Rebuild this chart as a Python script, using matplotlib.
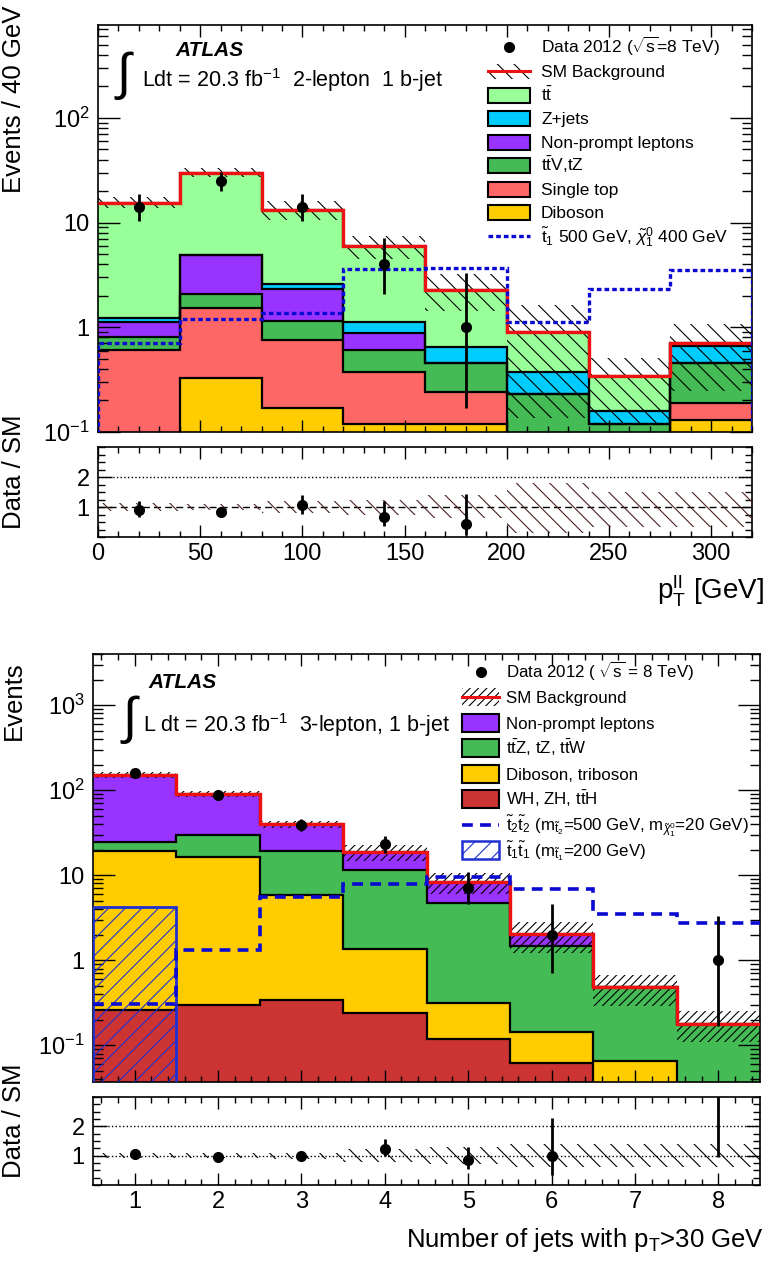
"""
Dos distribuciones de control de ATLAS (2012, 8 TeV) con paneles de cociente Data/SM:
  1. p_T^ll en la region 2-lepton, 1 b-jet.
  2. Numero de jets con p_T > 30 GeV en la region 3-lepton, 1 b-jet.
"""

import numpy as np
import matplotlib.pyplot as plt
from matplotlib.patches import Rectangle
from matplotlib.lines import Line2D
from matplotlib.ticker import (FixedLocator, FixedFormatter, MultipleLocator,
                               LogLocator, NullFormatter)

# Tamano de la figura en pixeles
W, H = 778, 1262

plt.rcParams['font.family'] = ['Liberation Sans', 'DejaVu Sans']
plt.rcParams['mathtext.fontset'] = 'custom'
plt.rcParams['mathtext.rm'] = 'Liberation Sans'
plt.rcParams['mathtext.it'] = 'Liberation Sans:italic'
plt.rcParams['mathtext.bf'] = 'Liberation Sans:bold'
plt.rcParams['hatch.linewidth'] = 0.8

# ---------------------------
# Panel superior: p_T^ll (2-lepton, 1 b-jet)
bordes_ptll = [0, 40, 80, 120, 160, 200, 240, 280, 320]
diboson_2l = [0.0, 0.33, 0.17, 0.12, 0.12, 0.0, 0.0, 0.13]
single_top_2l = [0.61, 1.21, 0.59, 0.25, 0.12, 0.0, 0.0, 0.06]
ttv_2l = [0.20, 0.55, 0.39, 0.24, 0.22, 0.23, 0.12, 0.27]
no_prompt_2l = [0.31, 2.81, 1.18, 0.28, 0.0, 0.0, 0.0, 0.0]
zjets_2l = [0.11, 0.0, 0.27, 0.24, 0.19, 0.14, 0.04, 0.20]
ttbar_2l = [14.3, 25.1, 10.7, 4.8, 1.64, 0.54, 0.18, 0.05]
incert_sube_2l = [0.12, 0.10, 0.20, 0.25, 0.40, 0.80, 0.50, 0.50]
incert_baja_2l = [0.12, 0.10, 0.20, 0.25, 0.38, 0.85, 0.65, 0.65]
senal_2l = [0.71, 1.2, 1.38, 3.6, 3.7, 1.13, 2.3, 3.55]
x_datos_2l = [20, 60, 100, 140, 180]
datos_2l = [14, 25, 14, 4, 1]
datos_2l_bajo = [10.3, 20.0, 10.3, 2.08, 0.17]
datos_2l_alto = [18.8, 30.5, 18.8, 7.16, 3.30]

# Panel inferior: numero de jets (3-lepton, 1 b-jet)
bordes_njet = [0.5, 1.5, 2.5, 3.5, 4.5, 5.5, 6.5, 7.5, 8.5]
wh_3l = [0.26, 0.30, 0.34, 0.24, 0.117, 0.062, 0.0, 0.0]
diboson_3l = [18.9, 16.0, 5.46, 1.11, 0.20, 0.08, 0.065, 0.0]
ttz_3l = [5.2, 13.2, 13.4, 10.15, 4.38, 1.32, 0.415, 0.18]
no_prompt_3l = [125.6, 60.5, 20.8, 7.1, 3.6, 0.56, 0.0, 0.0]
incert_3l = [0.08, 0.08, 0.10, 0.22, 0.28, 0.40, 0.40, 0.40]
senal_t2_3l = [0.31, 1.31, 5.5, 7.8, 9.6, 6.8, 3.47, 2.72]
senal_t1_3l = [4.2, 0.0, 0.0, 0.0, 0.0, 0.0, 0.0, 0.0]
x_datos_3l = [1, 2, 3, 4, 5, 6, 8]
datos_3l = [160, 87, 39, 23, 7, 2, 1]
datos_3l_bajo = [147.8, 77.7, 32.8, 18.3, 4.6, 0.71, 0.17]
datos_3l_alto = [173.3, 97.4, 45.3, 28.9, 10.8, 4.64, 3.30]

# Colores estilo ROOT
C_TTBAR = '#99ff99'
C_ZJETS = '#00ccff'
C_NOPROMPT = '#9933ff'
C_TTV = '#44bb55'
C_SINGLETOP = '#ff6666'
C_DIBOSON = '#ffcc00'
C_WH = '#cc3333'
C_SENAL = '#0a0ad2'
C_ROJO = '#ee1111'


def caja(x0, y0, x1, y1):
    """Rectangulo en pixeles (origen arriba-izquierda) -> coordenadas de figura."""
    return [x0 / W, 1 - y1 / H, (x1 - x0) / W, (y1 - y0) / H]


def px(x, y):
    return x / W, 1 - y / H


def dibujar_pila(ax, bordes, componentes, colores, suelo):
    """Dibuja el apilado de fondos con contorno negro; devuelve el total."""
    topes = np.cumsum(np.array(componentes, dtype=float), axis=0)
    topes_vis = np.maximum(topes, suelo)
    base = np.full(topes.shape[1], suelo)
    for tope, color in zip(topes_vis, colores):
        ax.stairs(tope, bordes, baseline=base, fill=True, facecolor=color,
                  edgecolor='none', lw=0, zorder=1)
        base = tope
    for tope in topes_vis:
        ax.stairs(tope, bordes, baseline=None, color='black', lw=1.6, zorder=2)
    return topes[-1]


def banda(ax, bordes, centro, arriba, abajo, rayado, color='black'):
    """Banda rayada de incertidumbre alrededor de 'centro'."""
    bordes = np.asarray(bordes, dtype=float)
    ancho = np.diff(bordes)
    x = bordes[:-1] + ancho / 2
    arriba, abajo = np.asarray(arriba), np.asarray(abajo)
    ax.bar(x, centro * (arriba + abajo), bottom=centro * (1 - abajo), width=ancho,
           facecolor='none', edgecolor=color, lw=0, hatch=rayado, zorder=3)


def estilo_ejes(ax, largo_y=(16, 7.5), largo_x=(8.5, 4.5)):
    ax.tick_params(which='both', direction='in', top=True, right=True,
                   width=1, labelsize=17)
    ax.tick_params(axis='y', which='major', length=largo_y[0], pad=6)
    ax.tick_params(axis='y', which='minor', length=largo_y[1])
    ax.tick_params(axis='x', which='major', length=largo_x[0], pad=4)
    ax.tick_params(axis='x', which='minor', length=largo_x[1])
    for s in ax.spines.values():
        s.set_linewidth(1.2)


def eje_log(ax, ymin, ymax, mayores, etiquetas):
    ax.set_yscale('log')
    ax.set_ylim(ymin, ymax)
    ax.yaxis.set_major_locator(FixedLocator(mayores))
    ax.yaxis.set_major_formatter(FixedFormatter(etiquetas))
    ax.yaxis.set_minor_locator(LogLocator(base=10, subs=np.arange(2, 10)))
    ax.yaxis.set_minor_formatter(NullFormatter())


def eje_cociente(ax):
    ax.set_ylim(0, 3)
    ax.yaxis.set_major_locator(FixedLocator([1, 2]))
    ax.yaxis.set_minor_locator(MultipleLocator(0.25))
    ax.axhline(2, color='black', lw=1, ls=':', zorder=2)


def leyenda(fig, entradas, x0, x1, alto, filas, x_texto, tam):
    """Leyenda dibujada a mano (posiciones en pixeles)."""
    ancho = (x1 - x0) / W
    alto_f = alto / H
    for (tipo, props, texto), y in zip(entradas, filas):
        fx0, fy = px(x0, y)
        if tipo == 'datos':
            fig.add_artist(Line2D([(x0 + x1) / 2 / W], [fy], marker='o', ls='none',
                                  color='black', ms=7, transform=fig.transFigure))
        elif tipo == 'banda':
            fig.add_artist(Rectangle((fx0, fy - alto_f / 2), ancho, alto_f,
                                     facecolor='none', edgecolor='black', lw=0,
                                     hatch=props, transform=fig.transFigure))
            fig.add_artist(Line2D([fx0, fx0 + ancho], [fy, fy], color=C_ROJO,
                                  lw=2.2, transform=fig.transFigure))
        elif tipo == 'caja':
            fig.add_artist(Rectangle((fx0, fy - alto_f / 2), ancho, alto_f,
                                     facecolor=props, edgecolor='black', lw=1.5,
                                     transform=fig.transFigure))
        elif tipo == 'linea':
            fig.add_artist(Line2D([fx0, fx0 + ancho], [fy, fy],
                                  transform=fig.transFigure, **props))
        elif tipo == 'rayado':
            fig.add_artist(Rectangle((fx0, fy - alto_f / 2), ancho, alto_f,
                                     facecolor='none', edgecolor=props, lw=1.8,
                                     hatch='//', transform=fig.transFigure))
        fig.text(x_texto / W, 1 - (y + 0.5 * tam) / H, texto, fontsize=tam,
                 va='baseline', ha='left')


def puntos_datos(ax, x, y, bajo, alto):
    y, bajo, alto = np.asarray(y, float), np.asarray(bajo, float), np.asarray(alto, float)
    ax.errorbar(x, y, yerr=[y - bajo, alto - y], fmt='o', color='black', ms=7,
                elinewidth=2, capsize=0, zorder=10)


fig = plt.figure(figsize=(W / 100, H / 100), dpi=100)

# ---------------------------
# Panel superior
ax1 = fig.add_axes(caja(98, 25, 752, 432))
ax1r = fig.add_axes(caja(98, 447, 752, 537))

suelo = 1e-3
total_2l = dibujar_pila(ax1, bordes_ptll,
                        [diboson_2l, single_top_2l, ttv_2l, no_prompt_2l, zjets_2l, ttbar_2l],
                        [C_DIBOSON, C_SINGLETOP, C_TTV, C_NOPROMPT, C_ZJETS, C_TTBAR], suelo)
banda(ax1, bordes_ptll, total_2l, incert_sube_2l, incert_baja_2l, '\\\\')
ax1.stairs(total_2l, bordes_ptll, baseline=None, color=C_ROJO, lw=2.4, zorder=4)
ax1.stairs(senal_2l, bordes_ptll, baseline=suelo, color=C_SENAL, lw=2.4,
           ls=(0, (1.4, 0.9)), zorder=5)
puntos_datos(ax1, x_datos_2l, datos_2l, datos_2l_bajo, datos_2l_alto)

eje_log(ax1, 0.1, 770, [0.1, 1, 10, 100], ['$10^{-1}$', '1', '10', '$10^{2}$'])
for a in (ax1, ax1r):
    a.set_xlim(0, 320)
    a.xaxis.set_major_locator(MultipleLocator(50))
    a.xaxis.set_minor_locator(MultipleLocator(10))
estilo_ejes(ax1)
ax1.tick_params(labelbottom=False)

# Cociente superior
idx_2l = np.searchsorted(bordes_ptll, x_datos_2l) - 1
den_2l = total_2l[idx_2l]
banda(ax1r, bordes_ptll, np.ones(len(total_2l)), incert_sube_2l, incert_baja_2l,
      '\\\\', color='#4a2222')
eje_cociente(ax1r)
ax1r.axhline(1, color='black', lw=1, ls=(0, (5, 3)), zorder=2)
puntos_datos(ax1r, x_datos_2l, np.array(datos_2l) / den_2l,
             np.array(datos_2l_bajo) / den_2l, np.array(datos_2l_alto) / den_2l)
estilo_ejes(ax1r, largo_y=(10, 5))

fig.text(*px(14, 193), 'Events / 40 GeV', rotation=90, fontsize=18.5,
         ha='center', va='bottom')
fig.text(*px(14, 529), 'Data / SM', rotation=90, fontsize=18.5,
         ha='center', va='bottom')
fig.text(*px(764, 590), r'$\mathrm{p}_{\mathrm{T}}^{\mathrm{ll}}$ [GeV]', fontsize=20,
         ha='right', va='center')

fig.text(*px(175, 50), 'ATLAS', fontsize=15, weight='bold', style='italic', va='center')
fig.text(*px(116, 76), '\u222b', fontsize=37, va='center')
fig.text(*px(142, 80), r'Ldt = 20.3 fb$^{\mathrm{-1}}$  2-lepton  1 b-jet',
         fontsize=15.5, va='center')

leyenda(fig, [
    ('datos', None, r'Data 2012 ($\sqrt{\mathrm{s}}$=8 TeV)'),
    ('banda', '\\\\', 'SM Background'),
    ('caja', C_TTBAR, r'$\mathrm{t\bar{t}}$'),
    ('caja', C_ZJETS, 'Z+jets'),
    ('caja', C_NOPROMPT, 'Non-prompt leptons'),
    ('caja', C_TTV, r'$\mathrm{t\bar{t}}$V,tZ'),
    ('caja', C_SINGLETOP, 'Single top'),
    ('caja', C_DIBOSON, 'Diboson'),
    ('linea', dict(color=C_SENAL, lw=2.4, ls=(0, (1.4, 0.9))),
     r'$\tilde{\mathrm{t}}_1$ 500 GeV, $\tilde{\chi}^0_1$ 400 GeV'),
], 488, 530, 15, [47, 71, 95, 118, 142, 165, 189, 212, 236], 541, 12.5)

# ---------------------------
# Panel inferior
ax2 = fig.add_axes(caja(93, 654, 760, 1082))
ax2r = fig.add_axes(caja(93, 1097, 760, 1185))

total_3l = dibujar_pila(ax2, bordes_njet,
                        [wh_3l, diboson_3l, ttz_3l, no_prompt_3l],
                        [C_WH, C_DIBOSON, C_TTV, C_NOPROMPT], suelo)
banda(ax2, bordes_njet, total_3l, incert_3l, incert_3l, '////')
ax2.stairs(total_3l, bordes_njet, baseline=None, color=C_ROJO, lw=2.4, zorder=4)
ax2.stairs(np.maximum(senal_t1_3l, suelo), bordes_njet, baseline=suelo, fill=True,
           facecolor='none', edgecolor='#2030d0', lw=2, hatch='//', zorder=5)
ax2.stairs(senal_t2_3l, bordes_njet, baseline=None, color=C_SENAL, lw=2.6,
           ls=(0, (3, 2)), zorder=5)
puntos_datos(ax2, x_datos_3l, datos_3l, datos_3l_bajo, datos_3l_alto)

eje_log(ax2, 0.037, 4000, [0.1, 1, 10, 100, 1000],
        ['$10^{-1}$', '1', '10', '$10^{2}$', '$10^{3}$'])
for a in (ax2, ax2r):
    a.set_xlim(0.5, 8.5)
    a.xaxis.set_major_locator(MultipleLocator(1))
    a.xaxis.set_minor_locator(MultipleLocator(0.2))
estilo_ejes(ax2)
ax2.tick_params(labelbottom=False)

# Cociente inferior
idx_3l = np.searchsorted(bordes_njet, x_datos_3l) - 1
den_3l = total_3l[idx_3l]
banda(ax2r, bordes_njet, np.ones(len(total_3l)), incert_3l, incert_3l, '\\\\')
eje_cociente(ax2r)
ax2r.axhline(1, color='black', lw=1, ls=':', zorder=2)
puntos_datos(ax2r, x_datos_3l, np.array(datos_3l) / den_3l,
             np.array(datos_3l_bajo) / den_3l, np.array(datos_3l_alto) / den_3l)
estilo_ejes(ax2r, largo_y=(10, 5))

fig.text(*px(14, 740), 'Events', rotation=90, fontsize=18.5, ha='center', va='bottom')
fig.text(*px(14, 1178), 'Data / SM', rotation=90, fontsize=18.5,
         ha='center', va='bottom')
fig.text(*px(764, 1240), r'Number of jets with $\mathrm{p}_{\mathrm{T}}$>30 GeV',
         fontsize=18.5, ha='right', va='center')

fig.text(*px(148, 682), 'ATLAS', fontsize=15, weight='bold', style='italic', va='center')
fig.text(*px(122, 720), '\u222b', fontsize=37, va='center')
fig.text(*px(143, 725), r'L dt = 20.3 fb$^{\mathrm{-1}}$  3-lepton, 1 b-jet',
         fontsize=15.5, va='center')

leyenda(fig, [
    ('datos', None, r'Data 2012 ( $\sqrt{\mathrm{s}}$ = 8 TeV)'),
    ('banda', '////', 'SM Background'),
    ('caja', C_NOPROMPT, 'Non-prompt leptons'),
    ('caja', C_TTV, r'$\mathrm{t\bar{t}}$Z, tZ, $\mathrm{t\bar{t}}$W'),
    ('caja', C_DIBOSON, 'Diboson, triboson'),
    ('caja', C_WH, r'WH, ZH, $\mathrm{t\bar{t}}$H'),
    ('linea', dict(color=C_SENAL, lw=2.6, ls=(0, (3, 2))),
     r'$\tilde{\mathrm{t}}_2\tilde{\mathrm{t}}_2$ (m$_{\tilde{\mathrm{t}}_2}$=500 GeV, '
     r'm$_{\tilde{\chi}^0_1}$=20 GeV)'),
    ('rayado', '#2030d0', r'$\tilde{\mathrm{t}}_1\tilde{\mathrm{t}}_1$ (m$_{\tilde{\mathrm{t}}_1}$=200 GeV)'),
], 462, 499, 18, [672, 697, 723, 748, 774, 799, 825, 850], 506, 12.2)

fig.savefig('out.png', dpi=100)
